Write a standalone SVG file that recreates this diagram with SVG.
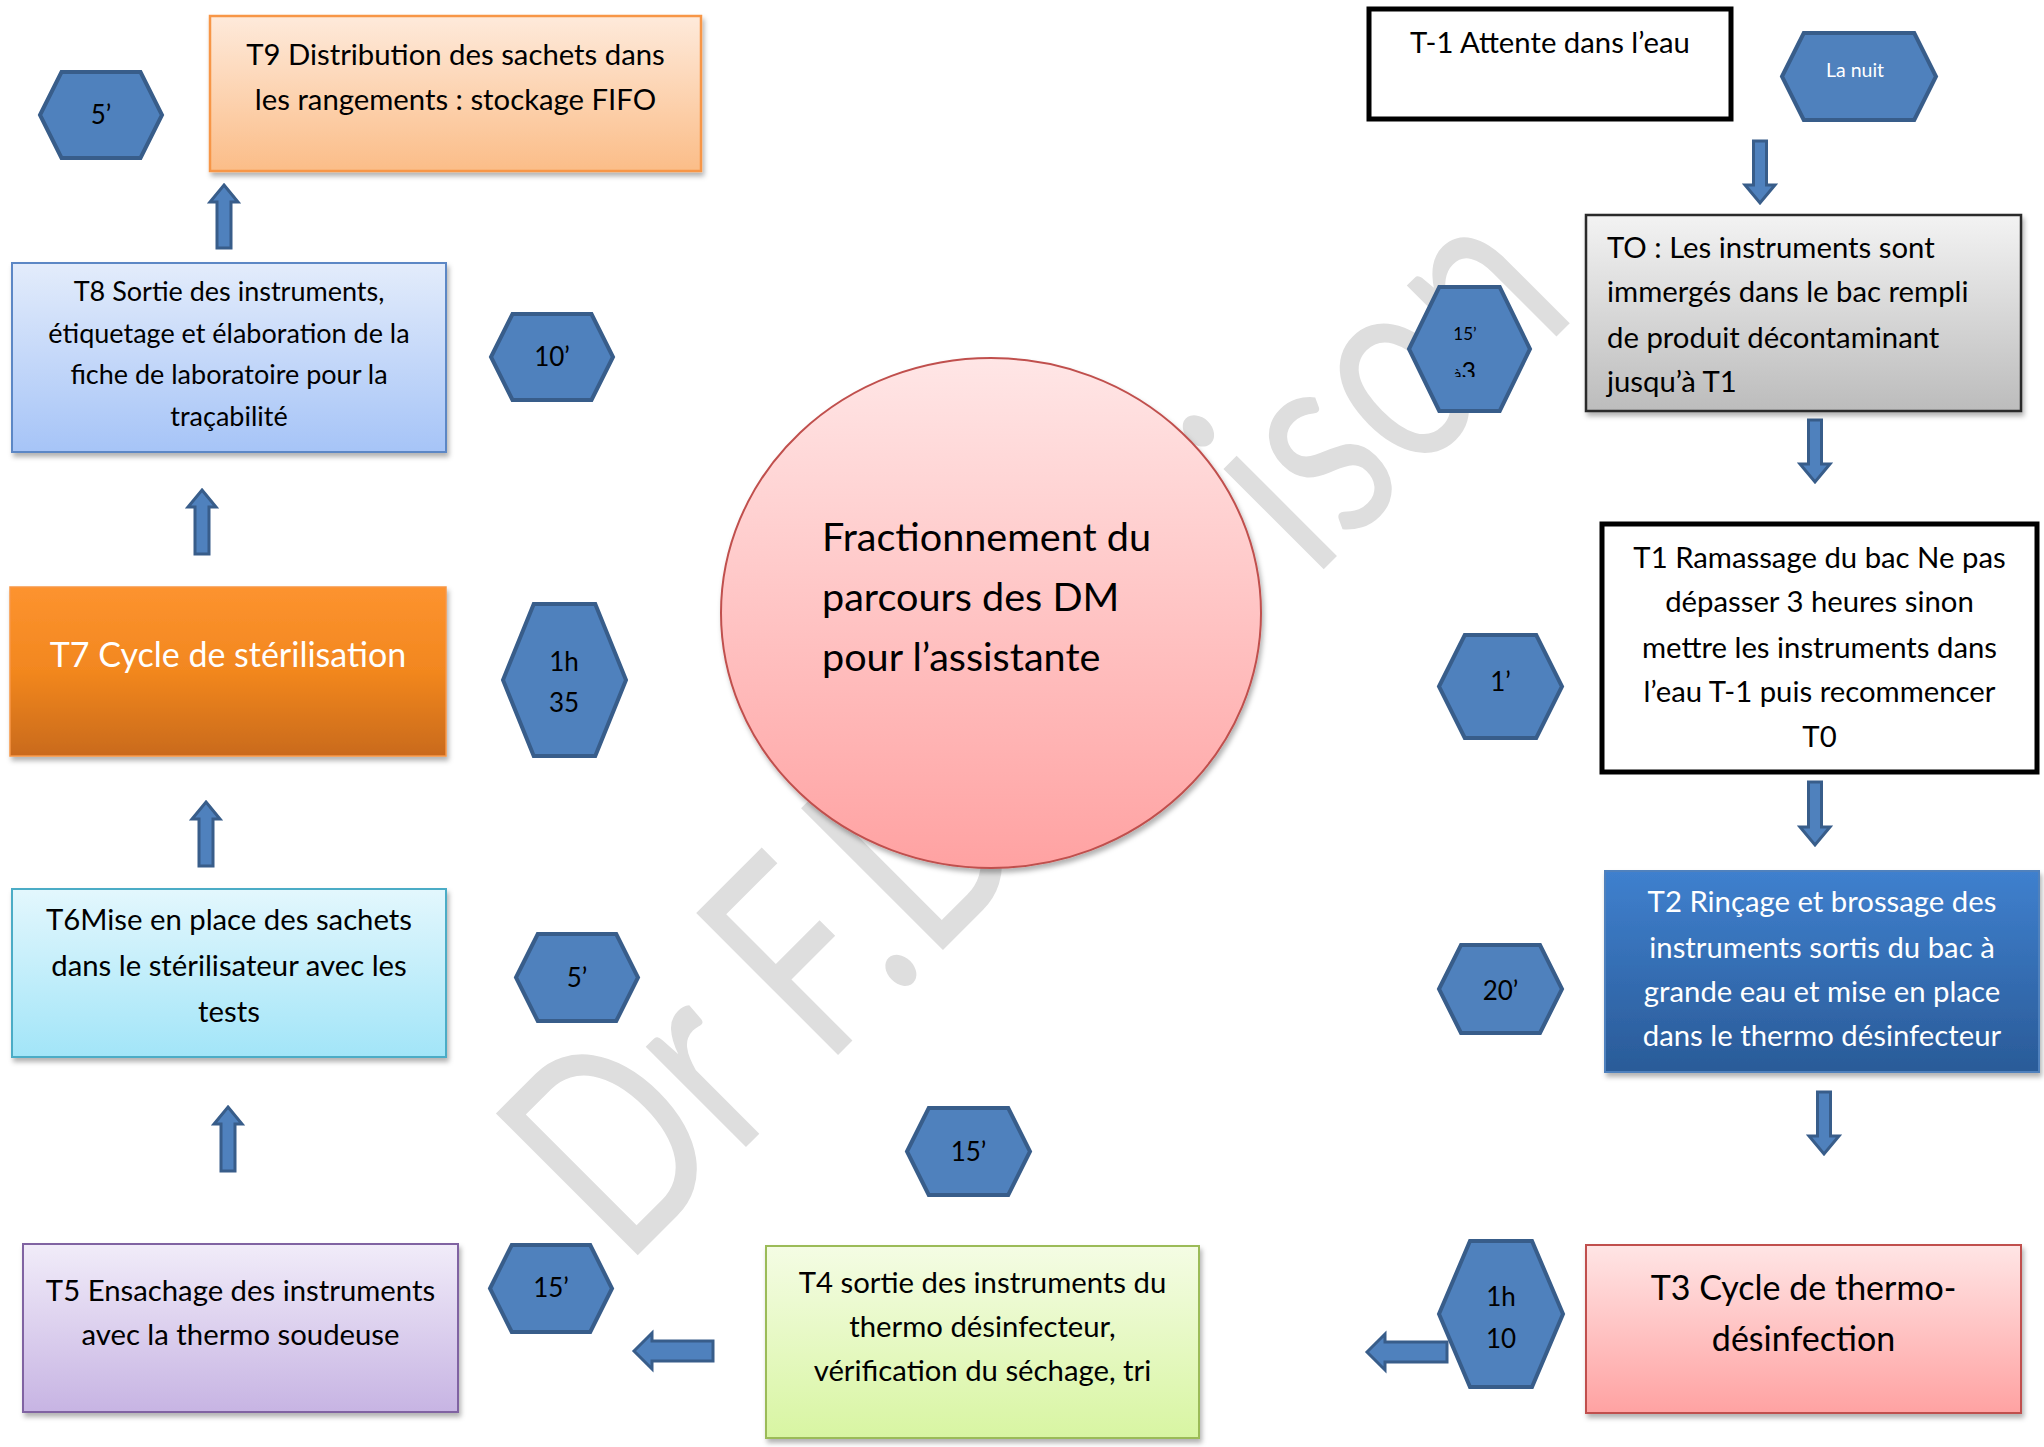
<svg xmlns="http://www.w3.org/2000/svg" width="2044" height="1447" viewBox="0 0 2044 1447">
<defs>
<linearGradient id="gT9" x1="0" y1="0" x2="0" y2="1"><stop offset="0" stop-color="#FEEADB"/><stop offset="1" stop-color="#FBBD88"/></linearGradient>
<linearGradient id="gT8" x1="0" y1="0" x2="0" y2="1"><stop offset="0" stop-color="#E3ECFB"/><stop offset="1" stop-color="#A6C4F7"/></linearGradient>
<linearGradient id="gT7" x1="0" y1="0" x2="0" y2="1"><stop offset="0" stop-color="#FD932F"/><stop offset="0.5" stop-color="#F2871F"/><stop offset="1" stop-color="#C96A1F"/></linearGradient>
<linearGradient id="gT6" x1="0" y1="0" x2="0" y2="1"><stop offset="0" stop-color="#E3F7FD"/><stop offset="1" stop-color="#A2E5F8"/></linearGradient>
<linearGradient id="gT5" x1="0" y1="0" x2="0" y2="1"><stop offset="0" stop-color="#F1ECF9"/><stop offset="1" stop-color="#C7B4E3"/></linearGradient>
<linearGradient id="gT4" x1="0" y1="0" x2="0" y2="1"><stop offset="0" stop-color="#F4FCE4"/><stop offset="1" stop-color="#D8F5A2"/></linearGradient>
<linearGradient id="gT3" x1="0" y1="0" x2="0" y2="1"><stop offset="0" stop-color="#FFE5E5"/><stop offset="1" stop-color="#FFA2A2"/></linearGradient>
<linearGradient id="gT2" x1="0" y1="0" x2="0" y2="1"><stop offset="0" stop-color="#3F80CE"/><stop offset="1" stop-color="#2A5B98"/></linearGradient>
<linearGradient id="gT0" x1="0" y1="0" x2="0" y2="1"><stop offset="0" stop-color="#F3F3F3"/><stop offset="1" stop-color="#BCBCBC"/></linearGradient>
<linearGradient id="gC" x1="0" y1="0" x2="0" y2="1"><stop offset="0" stop-color="#FFE6E6"/><stop offset="1" stop-color="#FFA2A2"/></linearGradient>
<filter id="sh" x="-5%" y="-5%" width="115%" height="120%"><feDropShadow dx="2" dy="4" stdDeviation="2.5" flood-color="#000" flood-opacity="0.3"/></filter>
<clipPath id="clipA3"><rect x="1409" y="350" width="121" height="27"/></clipPath>
</defs>
<style>
text{font-family:Lato,"Open Sans","DejaVu Sans",sans-serif;}
.t{font-size:29.3px;fill:#000;text-anchor:middle;}
.tw{font-size:29.3px;fill:#fff;text-anchor:middle;}
.tl{font-size:29.3px;fill:#000;}
.big{font-size:34px;text-anchor:middle;}
.hx{fill:#4F81BD;stroke:#385D8A;stroke-width:4;stroke-linejoin:miter;}
.hxt{font-size:26px;fill:#000;text-anchor:middle;}
.ar{fill:#4F81BD;stroke:#385D8A;stroke-width:3;stroke-linejoin:miter;}
.wm{font-size:280px;fill:#DEDEDE;}
</style>
<rect width="2044" height="1447" fill="#fff"/>

<g id="watermark">
<g transform="translate(639,1254) rotate(-45) scale(0.75,1)">
<text class="wm" x="-28">Dr F.D</text>
<text class="wm" x="1270">ison</text>
</g>
</g>

<g id="connectors">
<path class="ar" d="M224,185 L238,202 L231,202 L231,248 L217,248 L217,202 L210,202 Z"/>
<path class="ar" d="M202,490 L216,507 L209,507 L209,554 L195,554 L195,507 L188,507 Z"/>
<path class="ar" d="M206,802 L220,819 L213,819 L213,866 L199,866 L199,819 L192,819 Z"/>
<path class="ar" d="M228,1107 L242,1124 L235,1124 L235,1171 L221,1171 L221,1124 L214,1124 Z"/>
<path class="ar" d="M1753.5,141 L1766.5,141 L1766.5,185 L1775,185 L1760,203 L1745,185 L1753.5,185 Z"/>
<path class="ar" d="M1808.5,420 L1821.5,420 L1821.5,464 L1830,464 L1815,482 L1800,464 L1808.5,464 Z"/>
<path class="ar" d="M1808.5,782 L1821.5,782 L1821.5,827 L1830,827 L1815,845 L1800,827 L1808.5,827 Z"/>
<path class="ar" d="M1817.5,1092 L1830.5,1092 L1830.5,1136 L1839,1136 L1824,1154 L1809,1136 L1817.5,1136 Z"/>
<path class="ar" d="M634,1351 L652,1333 L652,1341 L713,1341 L713,1361 L652,1361 L652,1369 Z"/>
<path class="ar" d="M1367,1352 L1385,1334 L1385,1342 L1447,1342 L1447,1362 L1385,1362 L1385,1370 Z"/>
</g>

<g id="center">
<ellipse cx="991" cy="613" rx="270" ry="255" fill="url(#gC)" stroke="#C0504D" stroke-width="2" filter="url(#sh)"/>
<text x="822" y="551" style="font-size:39.6px">Fractionnement du</text>
<text x="822" y="611" style="font-size:39.6px">parcours des DM</text>
<text x="822" y="671" style="font-size:39.6px">pour l’assistante</text>
</g>

<g id="T9">
<rect x="210" y="16" width="491" height="155" fill="url(#gT9)" stroke="#F79646" stroke-width="2.5" filter="url(#sh)"/>
<text class="t" x="455.5" y="65">T9 Distribution des sachets dans</text>
<text class="t" x="455.5" y="110">les rangements : stockage FIFO</text>
</g>

<g id="T8">
<rect x="12" y="263" width="434" height="189" fill="url(#gT8)" stroke="#5B87C5" stroke-width="2" filter="url(#sh)"/>
<text class="t" x="229" y="301" style="font-size:27px">T8 Sortie des instruments,</text>
<text class="t" x="229" y="343" style="font-size:27px">étiquetage et élaboration de la</text>
<text class="t" x="229" y="384" style="font-size:27px">fiche de laboratoire pour la</text>
<text class="t" x="229" y="426" style="font-size:27px">traçabilité</text>
</g>

<g id="T7">
<rect x="10" y="587" width="436" height="169" fill="url(#gT7)" stroke="#F79646" stroke-width="1.5" filter="url(#sh)"/>
<text class="big" x="228" y="667" fill="#fff">T7 Cycle de stérilisation</text>
</g>

<g id="T6">
<rect x="12" y="889" width="434" height="168" fill="url(#gT6)" stroke="#4BACC6" stroke-width="2" filter="url(#sh)"/>
<text class="t" x="229" y="930">T6Mise en place des sachets</text>
<text class="t" x="229" y="976">dans le stérilisateur avec les</text>
<text class="t" x="229" y="1022">tests</text>
</g>

<g id="T5">
<rect x="23" y="1244" width="435" height="168" fill="url(#gT5)" stroke="#8064A2" stroke-width="2" filter="url(#sh)"/>
<text class="t" x="240.5" y="1301">T5 Ensachage des instruments</text>
<text class="t" x="240.5" y="1345">avec la thermo soudeuse</text>
</g>

<g id="T4">
<rect x="766" y="1246" width="433" height="192" fill="url(#gT4)" stroke="#9BBB59" stroke-width="2" filter="url(#sh)"/>
<text class="t" x="982.5" y="1293">T4 sortie des instruments du</text>
<text class="t" x="982.5" y="1337">thermo désinfecteur,</text>
<text class="t" x="982.5" y="1381">vérification du séchage, tri</text>
</g>

<g id="T3">
<rect x="1586" y="1245" width="435" height="168" fill="url(#gT3)" stroke="#C0504D" stroke-width="2" filter="url(#sh)"/>
<text class="big" x="1803.5" y="1300">T3 Cycle de thermo-</text>
<text class="big" x="1803.5" y="1351">désinfection</text>
</g>

<g id="T2">
<rect x="1605" y="871" width="434" height="201" fill="url(#gT2)" stroke="#4F81BD" stroke-width="2" filter="url(#sh)"/>
<text class="tw" x="1822" y="912">T2 Rinçage et brossage des</text>
<text class="tw" x="1822" y="958">instruments sortis du bac à</text>
<text class="tw" x="1822" y="1002">grande eau et mise en place</text>
<text class="tw" x="1822" y="1046">dans le thermo désinfecteur</text>
</g>

<g id="T1">
<rect x="1602" y="524" width="435" height="248" fill="#fff" stroke="#000" stroke-width="5"/>
<text class="t" x="1819.5" y="568">T1 Ramassage du bac Ne pas</text>
<text class="t" x="1819.5" y="612">dépasser 3 heures sinon</text>
<text class="t" x="1819.5" y="658">mettre les instruments dans</text>
<text class="t" x="1819.5" y="702">l’eau T-1 puis recommencer</text>
<text class="t" x="1819.5" y="747">T0</text>
</g>

<g id="T0">
<rect x="1586" y="215" width="435" height="196" fill="url(#gT0)" stroke="#2B2B2B" stroke-width="2.5" filter="url(#sh)"/>
<text class="tl" x="1607" y="258">TO : Les instruments sont</text>
<text class="tl" x="1607" y="302">immergés dans le bac rempli</text>
<text class="tl" x="1607" y="348">de produit décontaminant</text>
<text class="tl" x="1607" y="392">jusqu’à T1</text>
</g>

<g id="Tm1">
<rect x="1369" y="9" width="362" height="110" fill="#fff" stroke="#000" stroke-width="5"/>
<text class="t" x="1550" y="53">T-1 Attente dans l’eau</text>
</g>

<g id="H1"><polygon class="hx" points="40,115 61.5,72 140.5,72 162,115 140.5,158 61.5,158"/><text class="hxt" x="101" y="124">5’</text></g>
<g id="H2"><polygon class="hx" points="491,357 512.5,314 591.5,314 613,357 591.5,400 512.5,400"/><text class="hxt" x="552" y="366">10’</text></g>
<g id="H3"><polygon class="hx" points="503,680 533.75,604 595.25,604 626,680 595.25,756 533.75,756"/><text class="hxt" x="564" y="671">1h</text><text class="hxt" x="564" y="712">35</text></g>
<g id="H4"><polygon class="hx" points="516,977.5 537.75,934 616.25,934 638,977.5 616.25,1021 537.75,1021"/><text class="hxt" x="577" y="987">5’</text></g>
<g id="H5"><polygon class="hx" points="490,1288.5 511.75,1245 590.25,1245 612,1288.5 590.25,1332 511.75,1332"/><text class="hxt" x="551" y="1297">15’</text></g>
<g id="H6"><polygon class="hx" points="907,1151.5 928.75,1108 1008.25,1108 1030,1151.5 1008.25,1195 928.75,1195"/><text class="hxt" x="968.5" y="1161">15’</text></g>
<g id="H7"><polygon class="hx" points="1439,1314 1470,1241 1532,1241 1563,1314 1532,1387 1470,1387"/><text class="hxt" x="1501" y="1306">1h</text><text class="hxt" x="1501" y="1348">10</text></g>
<g id="H8"><polygon class="hx" points="1439,989 1461,945 1540,945 1562,989 1540,1033 1461,1033"/><text class="hxt" x="1500.5" y="1000">20’</text></g>
<g id="H9"><polygon class="hx" points="1439,686.5 1464.75,635 1536.25,635 1562,686.5 1536.25,738 1464.75,738"/><text class="hxt" x="1500.5" y="691">1’</text></g>
<g id="H10"><polygon class="hx" points="1409,349 1439.25,287 1499.75,287 1530,349 1499.75,411 1439.25,411"/><text class="hxt" x="1465" y="340" style="font-size:17px">15’</text><text x="1465" y="380" clip-path="url(#clipA3)" style="text-anchor:middle;fill:#000"><tspan style="font-size:15px">à</tspan><tspan style="font-size:25px">3</tspan></text></g>
<g id="H11"><polygon class="hx" points="1782,76.5 1803.75,33 1914.25,33 1936,76.5 1914.25,120 1803.75,120"/><text x="1855" y="77" style="font-size:19.5px;fill:#fff;text-anchor:middle">La nuit</text></g>
</svg>
